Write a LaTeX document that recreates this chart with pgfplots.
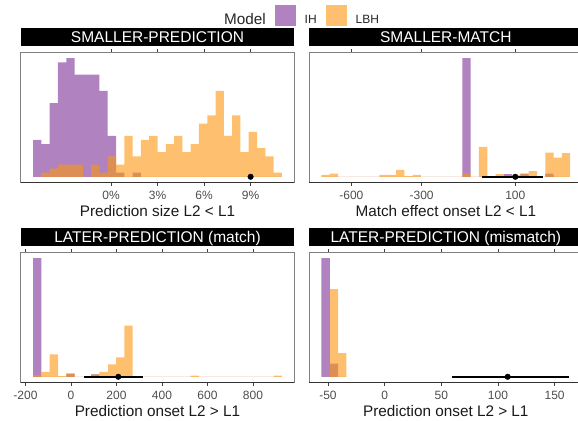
\documentclass[border=0pt]{standalone}
\usepackage{fontspec}
\setmainfont{Liberation Sans}
\usepackage{pgfplots}
\usepackage{pgfplotstable}
\pgfplotsset{compat=1.18}
\definecolor{purp}{RGB}{123,47,150}
\definecolor{oran}{RGB}{253,150,13}
\definecolor{grey30}{RGB}{77,77,77}
\pgfplotsset{
  panel/.style={
    scale only axis, width=273.6bp, height=130.4bp,
    axis line style={draw=black!50, line width=0.5bp},
    ytick=\empty,
    tick align=outside,
    xtick style={draw=black!75, line width=0.6bp},
    major tick length=3bp,
    tick label style={font=\fontsize{12bp}{14bp}\selectfont, text=grey30, inner sep=0pt},
    x tick label style={anchor=north, yshift=-5.5bp},
    xlabel style={at={(axis description cs:0.5,0)}, anchor=center, yshift=-28.3bp,
      font=\fontsize{15.3bp}{18bp}\selectfont, inner sep=0pt, text=black!90},
    title style={at={(axis description cs:0.5,1)}, anchor=south, fill=black, text=white,
      minimum width=273.6bp, minimum height=18.3bp, inner sep=0pt,
      font=\fontsize{15.5bp}{18bp}\selectfont, text height=11.1bp, text depth=0pt},
    after end axis/.code={\draw[black!80, line width=0.9bp] (rel axis cs:0,0) -- (rel axis cs:1,0);},
  },
  hist/.style={ybar interval, draw=none, fill=#1, fill opacity=0.6},
  ebar/.style={black, line width=1.8bp, forget plot},
  edot/.style={only marks, mark=*, mark size=2.8bp, black, forget plot},
}
\begin{document}
\pgfplotstableread{
edge ih lbh
-5.030 9 0
-4.495 8 1
-3.960 18 2
-3.425 28 3
-2.890 29 3
-2.355 25 3
-1.820 25 0
-1.285 25 3
-0.750 21 1
-0.215 10 5
0.320 1 3
0.855 0 10
1.390 1 5
1.925 0 9
2.460 0 10
2.995 0 6
3.530 0 8
4.065 0 10
4.600 0 6
5.135 0 8
5.670 0 13
6.205 0 15
6.740 0 21
7.275 0 10
7.810 0 15
8.345 0 6
8.880 0 11
9.415 0 7
9.950 0 5
10.485 0 1
11.020 0 0
}\tabA
\pgfplotstableread{
edge ih lbh
-727.7 0 3
-692.3 0 5
-656.9 0 0
-621.5 0 0
-586.1 0 0
-550.7 0 0
-515.3 0 0
-479.9 0 3
-444.5 0 3
-409.1 0 11
-373.7 0 1
-338.3 0 3
-302.9 0 0
-267.5 0 0
-232.1 0 0
-196.7 0 0
-161.3 0 0
-125.9 186 5
-90.5 0 0
-55.1 0 47
-19.7 0 0
15.7 0 4
51.1 4 0
86.5 0 3
121.9 5 4
157.3 0 9
192.7 0 0
228.1 5 38
263.5 0 30
298.9 0 37
334.3 0 0
}\tabB
\pgfplotstableread{
edge ih lbh
-166.30 190 3
-129.86 0 8
-93.42 0 36
-56.98 0 1
-20.54 5 5
15.90 0 0
52.34 0 0
88.78 4 4
125.22 0 8
161.66 0 20
198.10 0 31
234.54 0 82
270.98 0 0
307.42 0 0
343.86 0 0
380.30 0 0
416.74 0 0
453.18 0 0
489.62 0 0
526.06 0 2
562.50 0 0
598.94 0 0
635.38 0 0
671.82 0 0
708.26 0 0
744.70 0 0
781.14 0 0
817.58 0 0
854.02 0 0
890.46 0 2
926.90 0 0
}\tabC
\pgfplotstableread{
edge ih lbh
-55.700 180 0
-48.387 20 133
-41.074 0 36
-33.761 0 0
}\tabD
\begin{tikzpicture}
\path[use as bounding box] (0,0) rectangle (578bp,421bp);
% Panel 1
\begin{axis}[panel, at={(20.7bp,238.3bp)}, anchor=south west,
  xmin=-5.83, xmax=11.82, ymin=-1.45, ymax=30.45,
  xtick={0,3,6,9}, xticklabels={0\%,3\%,6\%,9\%},
  title={SMALLER-PREDICTION}, xlabel={Prediction size L2 < L1},
  legend style={at={(0.7102,1.282)}, anchor=west, draw=none, fill=none,
    legend columns=-1, inner sep=0pt, outer sep=0pt, nodes={inner sep=0pt},
    /tikz/every odd column/.append style={column sep=9bp},
    /tikz/every even column/.append style={column sep=9bp},
    font=\fontsize{12bp}{14bp}\selectfont, text=black!85},
  legend cell align=left]
\addlegendimage{legend image code/.code={}}
\addlegendentry{\fontsize{15.3bp}{18bp}\selectfont Model}
\addplot[hist=purp, legend image code/.code={\fill[fill=purp, fill opacity=0.6] (0bp,-6.2bp) rectangle (21bp,14.8bp);}] table[x=edge, y=ih] {\tabA};
\addlegendentry{IH}
\addplot[hist=oran, legend image code/.code={\fill[fill=oran, fill opacity=0.6] (0bp,-6.2bp) rectangle (21bp,14.8bp);}] table[x=edge, y=lbh] {\tabA};
\addlegendentry{LBH}
\addplot[edot] coordinates {(9.0,0)};
\end{axis}
% Panel 2
\begin{axis}[panel, at={(309bp,238.3bp)}, anchor=south west,
  xmin=-780.8, xmax=387.3, ymin=-9.3, ymax=195.3,
  xtick={-600,-300,100}, xticklabels={-600,-300,100},
  title={SMALLER-MATCH}, xlabel={Match effect onset L2 < L1}]
\addplot[hist=purp] table[x=edge, y=ih] {\tabB};
\addplot[hist=oran] table[x=edge, y=lbh] {\tabB};
\addplot[ebar] coordinates {(-42.2,0) (217.5,0)};
\addplot[edot] coordinates {(100,0)};
\end{axis}
% Panel 3
\begin{axis}[panel, at={(20.7bp,38.3bp)}, anchor=south west,
  xmin=-221, xmax=981.7, ymin=-9.5, ymax=199.5,
  xtick={-200,0,200,400,600,800}, xticklabels={-200,0,200,400,600,800},
  title={LATER-PREDICTION (match)}, xlabel={Prediction onset L2 > L1}]
\addplot[hist=purp] table[x=edge, y=ih] {\tabC};
\addplot[hist=oran] table[x=edge, y=lbh] {\tabC};
\addplot[ebar] coordinates {(55.6,0) (318.6,0)};
\addplot[edot] coordinates {(208,0)};
\end{axis}
% Panel 4
\begin{axis}[panel, at={(309bp,38.3bp)}, anchor=south west,
  xmin=-66.7, xmax=174.7, ymin=-9, ymax=189,
  xtick={-50,0,50,100,150}, xticklabels={-50,0,50,100,150},
  title={LATER-PREDICTION (mismatch)}, xlabel={Prediction onset L2 > L1}]
\addplot[hist=purp] table[x=edge, y=ih] {\tabD};
\addplot[hist=oran] table[x=edge, y=lbh] {\tabD};
\addplot[ebar] coordinates {(59.6,0) (162.3,0)};
\addplot[edot] coordinates {(108.6,0)};
\end{axis}
\end{tikzpicture}
\end{document}
